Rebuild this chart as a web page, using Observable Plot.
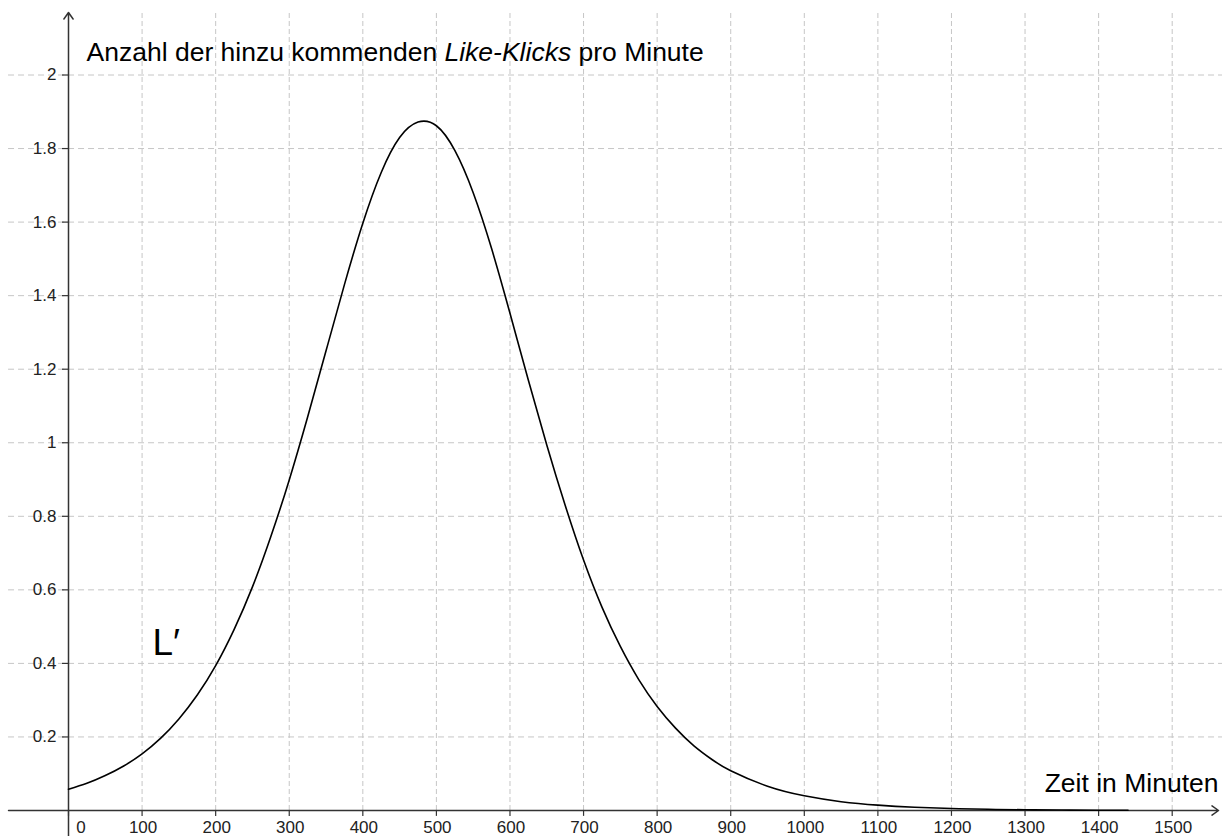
<!DOCTYPE html>
<html><head><meta charset="utf-8">
<script src="https://cdn.jsdelivr.net/npm/d3@7"></script>
<script src="https://cdn.jsdelivr.net/npm/@observablehq/plot@0.6"></script>
<style>html,body{margin:0;padding:0;background:#fff;overflow:hidden}</style>
</head><body><div id="chart"></div>
<script>
// Time in minutes and the read values of L'(t) (Like-Klicks per minute)
const minutes = [0,25,50,75,100,125,150,175,200,225,250,275,300,325,350,375,400,425,450,475,500,525,550,575,600,625,650,675,700,725,750,775,800,825,850,875,900,950,1000,1050,1100,1150,1200,1250,1300,1350,1400,1440];
const likesPerMinute = [0.058,0.074,0.095,0.121,0.154,0.196,0.249,0.314,0.394,0.492,0.608,0.745,0.899,1.07,1.25,1.43,1.597,1.735,1.83,1.872,1.862,1.795,1.68,1.528,1.352,1.17,0.994,0.83,0.681,0.553,0.446,0.356,0.283,0.224,0.176,0.138,0.108,0.066,0.040,0.024,0.0146,0.0089,0.0053,0.0032,0.002,0.0012,0.0007,0.0005];
const xTicks = [0,100,200,300,400,500,600,700,800,900,1000,1100,1200,1300,1400,1500];
const yTicks = [0.2,0.4,0.6,0.8,1,1.2,1.4,1.6,1.8,2];
const titleText = "Anzahl der hinzu kommenden Like-Klicks pro Minute";
const italicPart = "Like-Klicks";
const xLabel = "Zeit in Minuten";
const curveLabel = "L\u2032";

const data = minutes.map((t, i) => ({t, v: likesPerMinute[i]}));
const X0 = -92.42, X1 = 1568.36, Y0 = -0.0707, Y1 = 2.2026;
const gridColor = "#c6c6c6";
const axisColor = "#333";

const plot = Plot.plot({
  width: 1222, height: 836, margin: 0,
  x: {domain: [X0, X1], axis: null},
  y: {domain: [Y0, Y1], axis: null},
  style: {fontFamily: "'Liberation Sans', Arial, sans-serif", background: "#fff", color: "#000", overflow: "visible"},
  marks: [
    Plot.ruleY(yTicks, {y: d => d, x1: () => -81.5, x2: () => X1, stroke: gridColor, strokeDasharray: "6,4", strokeWidth: 1}),
    Plot.ruleX(xTicks.filter(d => d > 0), {x: d => d, y1: () => 0, y2: () => 2.175, stroke: gridColor, strokeDasharray: "5,3", strokeWidth: 1}),
    // tick marks
    Plot.ruleX(xTicks, {x: d => d, y1: () => 0, y2: () => -0.016, stroke: axisColor, strokeWidth: 1.2}),
    Plot.ruleY(yTicks, {y: d => d, x1: () => -8.2, x2: () => 0, stroke: axisColor, strokeWidth: 1.2}),
    // axes with arrows
    Plot.arrow([0], {x1: () => -81.5, y1: () => 0, x2: () => 1563, y2: () => 0, stroke: axisColor, strokeWidth: 1.5, headLength: 8, headAngle: 70}),
    Plot.arrow([0], {x1: () => 0, y1: () => Y0, x2: () => 0, y2: () => 2.17, stroke: axisColor, strokeWidth: 1.5, headLength: 8, headAngle: 70}),
    // curve
    Plot.line(data, {x: "t", y: "v", stroke: "#000", strokeWidth: 1.6, curve: "natural"}),
    // tick labels
    Plot.text(xTicks.filter(d => d > 0), {x: d => d, y: () => 0, text: d => String(d), dy: 17.5, dx: 1, lineAnchor: "middle", fontSize: 17, fill: "#222"}),
    Plot.text(xTicks.filter(d => d === 0), {x: d => d, y: () => 0, text: d => String(d), dy: 17.5, dx: 12.5, lineAnchor: "middle", fontSize: 17, fill: "#222"}),
    Plot.text(yTicks, {x: () => 0, y: d => d, text: d => String(d), dx: -12, textAnchor: "end", lineAnchor: "middle", fontSize: 17, fill: "#222"}),
    // labels
    Plot.text([titleText], {x: () => 24.5, y: () => 2.0, text: d => d, dy: -14.5, textAnchor: "start", lineAnchor: "bottom", fontSize: 26.5, fill: "#000"}),
    Plot.text([xLabel], {x: () => 1562.9, y: () => 0.049, text: d => d, textAnchor: "end", lineAnchor: "bottom", fontSize: 26.5, fill: "#000"}),
    Plot.text([curveLabel], {x: () => 114.2, y: () => 0.4215, text: d => d, textAnchor: "start", lineAnchor: "bottom", fontSize: 37, fill: "#000"})
  ]
});
document.getElementById("chart").appendChild(plot);

// italicize part of the title
plot.querySelectorAll("text").forEach(el => {
  if (el.textContent === titleText) {
    const idx = titleText.indexOf(italicPart);
    const parts = [
      [titleText.slice(0, idx), false],
      [italicPart, true],
      [titleText.slice(idx + italicPart.length), false]
    ];
    el.textContent = "";
    for (const [s, it] of parts) {
      const ts = document.createElementNS("http://www.w3.org/2000/svg", "tspan");
      ts.textContent = s;
      if (it) ts.setAttribute("font-style", "italic");
      el.appendChild(ts);
    }
    el.setAttribute("xml:space", "preserve");
    el.style.whiteSpace = "pre";
  }
});
</script>
</body></html>
